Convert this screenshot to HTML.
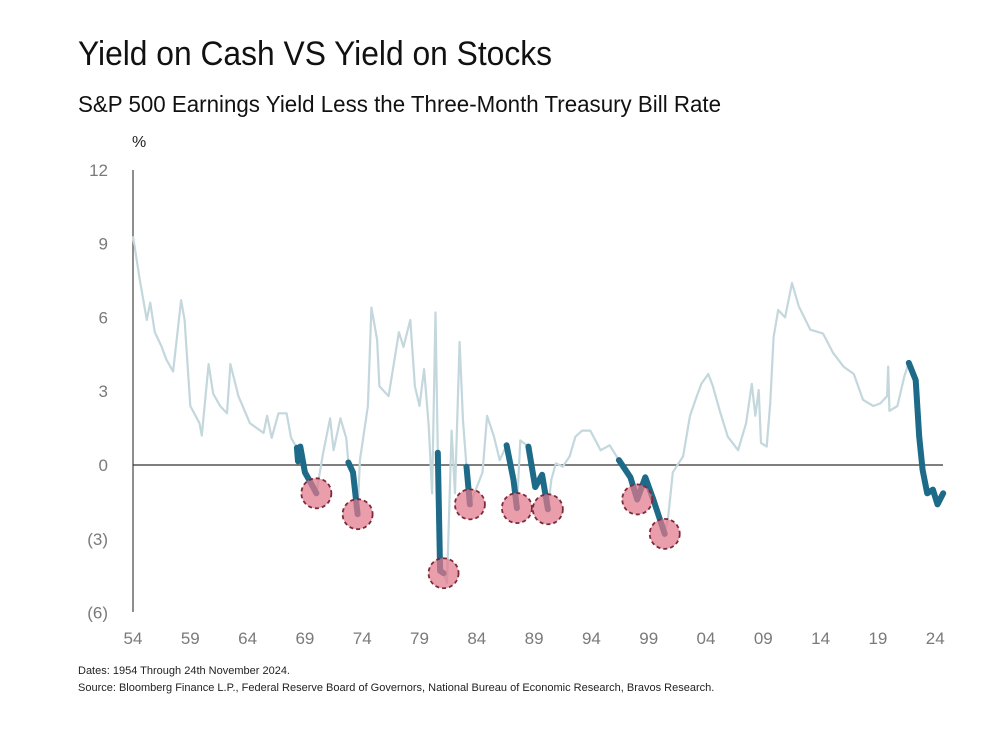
<!DOCTYPE html>
<html><head><meta charset="utf-8"><style>
html,body{margin:0;padding:0;background:#fff;}
svg{display:block;font-family:"Liberation Sans",sans-serif;}
</style></head><body>
<svg id="chart" width="1000" height="746" viewBox="0 0 1000 746">
<text x="78" y="65" font-size="34" fill="#111" textLength="474" lengthAdjust="spacingAndGlyphs">Yield on Cash VS Yield on Stocks</text>
<text x="78" y="112" font-size="23" fill="#111" textLength="643" lengthAdjust="spacingAndGlyphs">S&amp;P 500 Earnings Yield Less the Three-Month Treasury Bill Rate</text>
<text x="132" y="147" font-size="16" fill="#222">%</text>
<g id="yticks"></g>
<g id="xticks"></g>
<line x1="133" y1="170" x2="133" y2="612" stroke="#444" stroke-width="1.2"/>
<g id="plot"></g>
<text x="78" y="674" font-size="11" fill="#222">Dates: 1954 Through 24th November 2024.</text>
<text x="78" y="691" font-size="11" fill="#222">Source: Bloomberg Finance L.P., Federal Reserve Board of Governors, National Bureau of Economic Research, Bravos Research.</text>
</svg>
<script>
const yTickValues = [12, 9, 6, 3, 0, -3, -6];
const yTickLabels = ["12", "9", "6", "3", "0", "(3)", "(6)"];
const xTickYears = [1954,1959,1964,1969,1974,1979,1984,1989,1994,1999,2004,2009,2014,2019,2024];
const xTickLabels = ["54","59","64","69","74","79","84","89","94","99","04","09","14","19","24"];
const years = [1954.0,1954.6,1955.2,1955.5,1955.9,1956.5,1956.9,1957.5,1958.2,1958.5,1959.0,1959.8,1960.0,1960.6,1961.0,1961.6,1962.2,1962.5,1963.2,1964.2,1965.4,1965.7,1966.1,1966.7,1967.4,1967.8,1968.3,1968.4,1968.6,1969.0,1969.6,1970.0,1970.3,1970.6,1971.2,1971.5,1972.1,1972.6,1972.8,1973.2,1973.6,1973.8,1974.5,1974.8,1975.3,1975.5,1976.3,1977.2,1977.6,1978.2,1978.6,1979.0,1979.4,1979.8,1980.1,1980.4,1980.6,1980.8,1981.1,1981.4,1981.8,1982.1,1982.5,1982.8,1983.1,1983.4,1984.0,1984.5,1984.9,1985.5,1986.0,1986.6,1987.2,1987.5,1987.8,1988.5,1989.1,1989.7,1990.2,1990.5,1990.9,1991.5,1992.1,1992.6,1993.2,1993.9,1994.8,1995.6,1996.4,1997.4,1998.0,1998.7,1999.4,2000.4,2000.7,2001.1,2001.6,2002.0,2002.6,2003.2,2003.6,2004.2,2004.6,2005.2,2005.9,2006.8,2007.5,2008.0,2008.3,2008.6,2008.8,2009.3,2009.6,2009.9,2010.3,2010.9,2011.5,2012.1,2013.1,2014.2,2015.1,2016.0,2016.9,2017.7,2018.6,2019.2,2019.8,2019.9,2020.0,2020.7,2021.3,2021.7,2022.3,2022.6,2022.9,2023.3,2023.8,2024.2,2024.7];
const values = [9.3,7.5,5.9,6.6,5.4,4.8,4.3,3.8,6.7,5.9,2.4,1.7,1.2,4.1,2.9,2.4,2.1,4.1,2.8,1.7,1.3,2.0,1.1,2.1,2.1,1.1,0.7,0.15,0.75,-0.3,-0.8,-1.15,-0.3,0.5,1.9,0.6,1.9,1.1,0.1,-0.3,-2.0,0.2,2.4,6.4,5.1,3.2,2.8,5.4,4.8,5.9,3.2,2.4,3.9,1.6,-1.15,6.2,0.5,-4.3,-4.4,-4.8,1.4,-1.15,5.0,1.8,-0.07,-1.6,-0.9,-0.3,2.0,1.15,0.2,0.8,-0.6,-1.75,1.0,0.75,-0.9,-0.4,-1.8,-0.6,0.07,-0.07,0.35,1.15,1.4,1.4,0.6,0.8,0.2,-0.5,-1.4,-0.5,-1.4,-2.8,-2.1,-0.3,0.07,0.35,2.0,2.8,3.3,3.7,3.2,2.2,1.15,0.6,1.7,3.3,2.0,3.05,0.9,0.75,2.5,5.2,6.3,6.0,7.4,6.45,5.5,5.35,4.55,4.0,3.7,2.65,2.4,2.5,2.8,4.0,2.2,2.4,3.6,4.15,3.45,1.15,-0.2,-1.15,-1.0,-1.6,-1.15];
const segStart = [1968.3,1972.8,1980.6,1983.1,1986.6,1988.5,1996.4,1998.0,2021.7];
const segEnd   = [1970.0,1973.6,1981.1,1983.4,1987.5,1990.2,1998.0,2000.4,2024.7];
const segCircled = [1,1,1,1,1,1,1,1,0];

const NS = "http://www.w3.org/2000/svg";
const X0 = 133, PXY = 11.46, Y0 = 465, PXV = 24.6;
function xs(yr){ return X0 + (yr - 1954) * PXY; }
function ys(v){ return Y0 - v * PXV; }
function mk(tag, attrs, parent){ const e = document.createElementNS(NS, tag); for (const k in attrs) e.setAttribute(k, attrs[k]); parent.appendChild(e); return e; }

const yg = document.getElementById('yticks');
yTickValues.forEach((v, i) => {
  const t = mk('text', {x: 108, y: ys(v) + 6, 'font-size': 17, fill: '#7a7a7a', 'text-anchor': 'end'}, yg);
  
  
  t.textContent = yTickLabels[i];
});
const xg = document.getElementById('xticks');
xTickYears.forEach((yr, i) => {
  const t = mk('text', {x: xs(yr), y: 644, 'font-size': 17, fill: '#7a7a7a', 'text-anchor': 'middle'}, xg);
  
  
  t.textContent = xTickLabels[i];
});

const plot = document.getElementById('plot');
const zl = mk('line', {x1: 133, x2: 943, y1: ys(0), y2: ys(0), stroke: '#333', 'stroke-width': 1.2}, plot);



const pts = years.map((y, i) => xs(y).toFixed(1) + ',' + ys(values[i]).toFixed(1)).join(' ');
const light = mk('polyline', {points: pts, fill: 'none', stroke: '#c3d7dd', 'stroke-width': 2.2, 'stroke-linejoin': 'round'}, plot);



segStart.forEach((s, k) => {
  const e = segEnd[k];
  const idx = [];
  years.forEach((y, i) => { if (y >= s - 1e-6 && y <= e + 1e-6) idx.push(i); });
  const p = idx.map(i => xs(years[i]).toFixed(1) + ',' + ys(values[i]).toFixed(1)).join(' ');
  const seg = mk('polyline', {points: p, fill: 'none', stroke: '#1d6a89', 'stroke-width': 6, 'stroke-linejoin': 'round', 'stroke-linecap': 'round'}, plot);
  
  
});
segEnd.forEach((e, k) => {
  if (!segCircled[k]) return;
  const i = years.findIndex(y => Math.abs(y - e) < 1e-6);
  const c = mk('circle', {cx: xs(years[i]), cy: ys(values[i]), r: 15, fill: 'rgba(226,120,138,0.72)', stroke: '#7d2b3b', 'stroke-width': 1.8, 'stroke-dasharray': '4 3'}, plot);
  
  
});
</script>
</body></html>
